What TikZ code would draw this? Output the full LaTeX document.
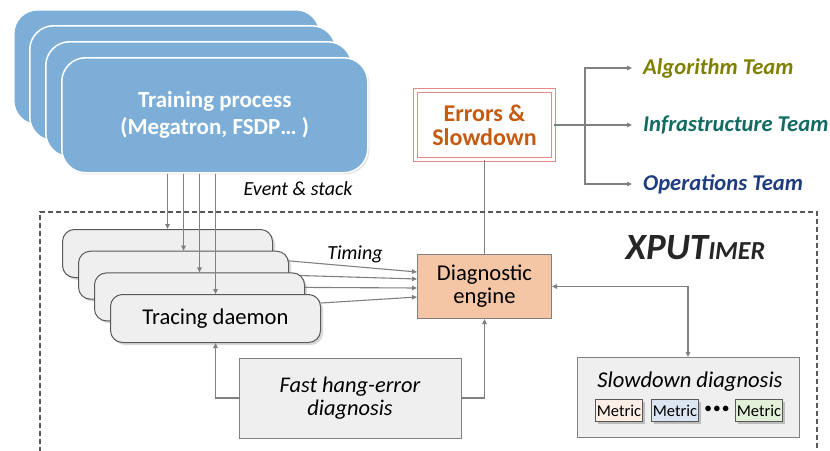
\documentclass[tikz,border=0pt]{standalone}
\usepackage{fontspec}
\setmainfont{Carlito}
\usepackage{tikz}
\usetikzlibrary{arrows.meta,shadows}
\pgfdeclarelayer{background}
\pgfsetlayers{background,main}
\definecolor{tblue}{RGB}{124,174,216}
\definecolor{lgray}{RGB}{239,239,239}
\definecolor{lnk}{RGB}{128,128,128}
\definecolor{bord}{RGB}{89,89,89}
\definecolor{peach}{RGB}{244,198,165}
\definecolor{errred}{RGB}{229,138,138}
\definecolor{errtxt}{RGB}{197,90,17}
\definecolor{algc}{RGB}{128,128,0}
\definecolor{infc}{RGB}{16,108,98}
\definecolor{opsc}{RGB}{30,60,128}
\definecolor{mpeach}{RGB}{252,238,228}
\definecolor{mblue}{RGB}{220,230,243}
\definecolor{mgreen}{RGB}{226,240,217}

\begin{document}
\begin{tikzpicture}[x=1pt,y=-1pt,
  tproc/.style={draw=white,line width=1.5pt,fill=tblue,rounded corners=24pt,
    minimum width=306pt,minimum height=115pt,anchor=north west,
    drop shadow={shadow xshift=1.5pt,shadow yshift=-1.5pt,opacity=0.25}},
  daemon/.style={draw=bord,line width=1pt,fill=lgray,rounded corners=12pt,
    minimum width=210pt,minimum height=48pt,anchor=north west,
    drop shadow={shadow xshift=2.5pt,shadow yshift=-2.5pt,opacity=0.3}},
  gbox/.style={draw=lnk,line width=1pt,fill=lgray,minimum width=222pt,minimum height=80pt},
  metric/.style={draw=bord,line width=0.8pt,minimum width=47pt,minimum height=22pt,inner sep=0.5pt,
    font=\fontsize{16.5}{16.5}\selectfont,
    drop shadow={shadow xshift=2pt,shadow yshift=-2.5pt,opacity=0.45}},
  team/.style={anchor=west,inner sep=0pt,font=\fontsize{22.6}{22.6}\selectfont\bfseries\itshape},
  lnk/.style={draw=lnk,line width=1.1pt},
  arr/.style={lnk,-{Triangle[length=5pt,width=4.5pt]}},
  biarr/.style={lnk,{Triangle[length=5pt,width=4.5pt]}-{Triangle[length=5pt,width=4.5pt]}}]
  \useasboundingbox (0,0) rectangle (830,450);

  % training processes
  \foreach \i in {0,1,2}
    \node[tproc] (tp\i) at ({13+16*\i},{9+16*\i}) {};
  \node[tproc,text=white,align=center,font=\fontsize{23}{27}\selectfont\bfseries]
    (tp) at (61,57) {Training process\\(Megatron, FSDP\dots\ )};

  % tracing daemons
  \foreach \i in {1,2,3}
    \node[daemon] (d\i) at ({46+16*\i},{207.3+21.7*\i}) {};
  \node[daemon,font=\fontsize{22.6}{22.6}\selectfont] (d4) at (110,294) {Tracing daemon};

  \foreach \i in {1,...,4}
    \draw[arr] (tp.south -| d\i.north) -- (d\i.north);
  \node[font=\fontsize{20}{20}\selectfont\itshape] (evt) at (298,189) {Event \& stack};

  % diagnostic engine and outputs
  \node[draw=lnk,line width=1pt,fill=peach,minimum width=134pt,minimum height=64pt,align=center,
    font=\fontsize{22.6}{23}\selectfont] (eng) at (484.5,286.5) {Diagnostic\\engine};
  \node[draw=errred,fill=white,double,line width=1pt,double distance=3pt,minimum width=138pt,
    minimum height=69pt,align=center,text=errtxt,font=\fontsize{24}{24}\selectfont\bfseries]
    (err) at (484.5,125) {Errors \&\\Slowdown};
  \draw[lnk] (err.south) -- (eng.north);

  \node[team,text=algc] (alg) at (643,68) {Algorithm Team};
  \node[team,text=infc] (inf) at (643,125) {Infrastructure Team};
  \node[team,text=opsc] (ops) at (643,184) {Operations Team};
  \coordinate (fork) at (585,125);
  \draw[lnk] (err.east) -- (fork);
  \draw[arr] (fork) |- ([xshift=-11pt]alg.west);
  \draw[arr] (fork) -- ([xshift=-11pt]inf.west);
  \draw[arr] (fork) |- ([xshift=-11pt]ops.west);

  % timing links, behind the daemons
  \begin{pgfonlayer}{background}
    \draw[arr] ([yshift=-6pt]d1.east) -- ([yshift=14.5pt]eng.west);
    \draw[arr] (d2.east) -- ([yshift=7.5pt]eng.west);
    \draw[arr] ([yshift=9.5pt]d3.east) -- ([yshift=-1.5pt]eng.west);
    \draw[arr] ([yshift=15.5pt]d4.east) -- ([yshift=-10.5pt]eng.west);
  \end{pgfonlayer}
  \node[font=\fontsize{20}{20}\selectfont\itshape] (tim) at (355,254) {Timing};

  % XPUTimer frame
  \draw[draw=bord,line width=1.2pt,dash pattern=on 5pt off 3pt] (40,460) |- (817,212) -- (817,460);
  \node[text=black!85,font=\bfseries\itshape] (xpu) at (695.5,248)
    {\fontsize{37}{37}\selectfont XPUT\fontsize{26}{26}\selectfont IMER};

  % diagnosis boxes
  \node[gbox,align=center,font=\fontsize{22.4}{23}\selectfont\itshape] (fast) at (350,398)
    {Fast hang-error\\diagnosis};
  \draw[arr] (fast.west) -| (d4.south);
  \draw[arr] (fast.east) -| (eng.south);

  \node[gbox] (slow) at (688,397.5) {};
  \node[font=\fontsize{22.6}{22.6}\selectfont\itshape] (stit) at (690,382) {Slowdown diagnosis};
  \node[metric,fill=mpeach] (m1) at (619,410.5) {Metric};
  \node[metric,fill=mblue] (m2) at (675,410.5) {Metric};
  \node[metric,fill=mgreen] (m3) at (759,410.5) {Metric};
  \node[font=\fontsize{14}{14}\selectfont] (dots) at (717,409) {$\bullet\mkern-2mu\bullet\mkern-2mu\bullet$};
  \draw[biarr] (eng.east) -| (slow.north);
\end{tikzpicture}
\end{document}
